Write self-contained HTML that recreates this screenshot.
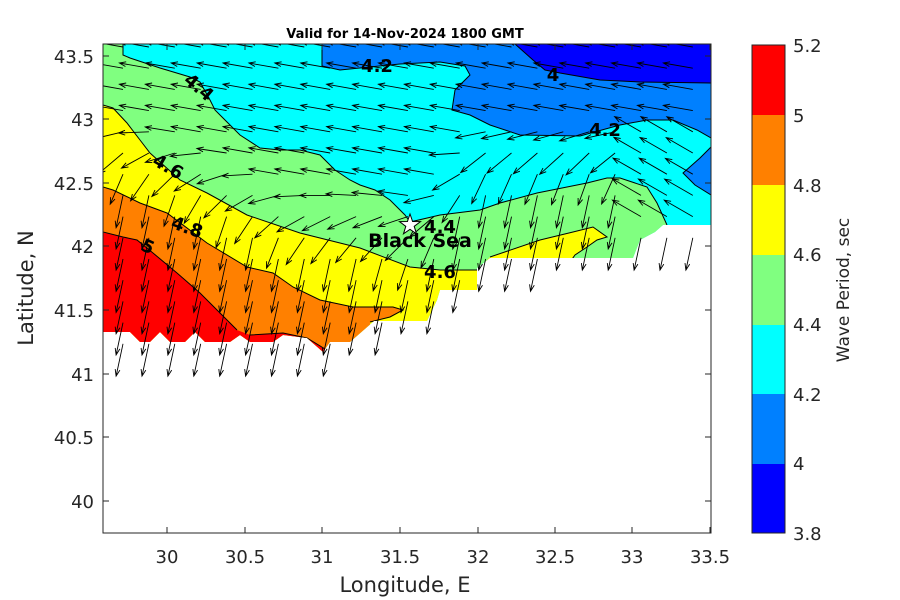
<!DOCTYPE html>
<html><head><meta charset="utf-8"><style>
body{margin:0;background:#fff;}
svg{display:block;font-family:"DejaVu Sans","Liberation Sans",sans-serif;}
</style></head><body>
<svg id="s" width="900" height="600" viewBox="0 0 900 600" xmlns="http://www.w3.org/2000/svg">
<defs>
<clipPath id="sea"><polygon points="103,44 711,44 711,225 663,225 655,232 640,240 633,258 490,258 477,268 477,290 440,290 437,300 427,321 374,321 350,342 330,342 323,352 307,338 283,335 273,342 250,342 240,335 230,342 205,342 195,332 185,342 170,342 160,332 150,342 140,342 130,332 103,332"/></clipPath>
<clipPath id="plot"><rect x="103" y="44" width="608" height="489"/></clipPath>
</defs>
<rect x="0" y="0" width="900" height="600" fill="#fff"/>
<g clip-path="url(#sea)">
<rect x="103" y="44" width="608" height="489" fill="#00ffff"/>
<polygon fill="#0080ff" points="322,40 322,66 340,70 400,64 440,62 465,66 470,75 455,90 452,110 470,115 490,125 520,135 580,136 620,125 647,120 673,120 697,130 711,138 720,138 720,40"/>
<polygon fill="#0080ff" points="720,147 711,147 700,158 683,173 695,185 711,195 720,195"/>
<polygon fill="#0000ff" points="515,40 515,44 533,60 545,70 560,73 600,80 640,82 720,83 720,40"/>
<polygon fill="#80ff80" points="100,40 123,40 123,55 130,58 160,68 190,77 200,82 210,100 215,110 220,115 230,125 240,135 260,148 280,150 300,150 320,155 335,170 350,180 360,185 375,190 390,200 405,215 410,222 440,215 480,210 500,203 537,193 587,183 607,178 620,178 647,187 657,203 667,225 670,400 100,400"/>
<polygon fill="#ffff00" points="100,105 113,108 127,123 140,140 150,153 180,180 207,193 247,215 300,233 360,248 410,267 440,270 477,270 490,257 540,240 573,232 593,227 607,237 597,240 587,247 575,255 570,262 570,400 100,400"/>
<polygon fill="#ff8000" points="100,187 113,190 140,203 167,213 207,243 247,267 273,273 293,287 320,300 353,307 393,307 403,310 390,317 370,322 370,400 100,400"/>
<polygon fill="#ff0000" points="100,232 123,237 137,240 153,253 177,273 200,293 217,310 237,330 250,335 283,333 307,338 330,352 330,400 100,400"/>
<g fill="none" stroke="#000" stroke-width="1">
<polyline points="322,44 322,66 340,70 400,64 440,62 465,66 470,75 455,90 452,110 470,115 490,125 520,135 580,136 620,125 647,120 673,120 697,130 711,138"/>
<polyline points="711,147 700,158 683,173 695,185 711,195"/>
<polyline points="515,44 533,60 545,70 560,73 600,80 640,82 711,83"/>
<polyline points="123,44 123,55 130,58 160,68 190,77 200,82 210,100 215,110 220,115 230,125 240,135 260,148 280,150 300,150 320,155 335,170 350,180 360,185 375,190 390,200 405,215 410,222 440,215 480,210 500,203 537,193 587,183 607,178 620,178 647,187 657,203 667,225"/>
<polyline points="103,105 113,108 127,123 140,140 150,153 180,180 207,193 247,215 300,233 360,248 410,267 440,270 477,270"/>
<polyline points="490,257 540,240 573,232 593,227 607,237 597,240 587,247 575,255 570,262"/>
<polyline points="103,187 113,190 140,203 167,213 207,243 247,267 273,273 293,287 320,300 353,307 393,307 403,310 390,317 370,322"/>
<polyline points="103,232 123,237 137,240 153,253 177,273 200,293 217,310 237,330"/>
<polyline points="250,335 283,333 307,338 330,352"/>
</g>
</g>
<g id="arrows" clip-path="url(#plot)" stroke="#000" stroke-width="0.9" fill="none"></g>
<g font-weight="bold" font-size="18" fill="#000" text-anchor="middle">
<text x="377" y="72">4.2</text>
<text x="553" y="81">4</text>
<text x="605" y="136">4.2</text>
<text x="0" y="0" transform="translate(195,92) rotate(40)">4.4</text>
<text x="0" y="0" transform="translate(165,172) rotate(30)">4.6</text>
<text x="0" y="0" transform="translate(185,233) rotate(20)">4.8</text>
<text x="0" y="0" transform="translate(145,252) rotate(25)">5</text>
<text x="440" y="233">4.4</text>
<text x="440" y="278">4.6</text>
<text x="420" y="247" font-size="19">Black Sea</text>
</g>
<polygon points="410,214 412.6,221.5 420.5,221.6 414.2,226.3 416.5,233.8 410,229.3 403.5,233.8 405.8,226.3 399.5,221.6 407.4,221.5" fill="#fff" stroke="#000" stroke-width="1"/>
<rect x="103" y="44" width="608" height="489" fill="none" stroke="#262626" stroke-width="1"/>
<g stroke="#262626" stroke-width="1" id="ticks"></g>
<g font-size="18" fill="#262626" text-anchor="middle">
<text x="167" y="563">30</text><text x="245" y="563">30.5</text><text x="322" y="563">31</text><text x="400" y="563">31.5</text><text x="478" y="563">32</text><text x="555" y="563">32.5</text><text x="632" y="563">33</text><text x="710" y="563">33.5</text>
</g>
<g font-size="18" fill="#262626" text-anchor="end">
<text x="94" y="63">43.5</text><text x="94" y="126">43</text><text x="94" y="190">42.5</text><text x="94" y="253">42</text><text x="94" y="317">41.5</text><text x="94" y="381">41</text><text x="94" y="444">40.5</text><text x="94" y="508">40</text>
</g>
<text x="405" y="592" font-size="21" fill="#262626" text-anchor="middle">Longitude, E</text>
<text transform="translate(33,288) rotate(-90)" font-size="21" fill="#262626" text-anchor="middle">Latitude, N</text>
<text x="405" y="38" font-size="13" font-weight="bold" text-anchor="middle">Valid for 14-Nov-2024 1800 GMT</text>
<g>
<rect x="752" y="45" width="33" height="70" fill="#ff0000"/>
<rect x="752" y="115" width="33" height="70" fill="#ff8000"/>
<rect x="752" y="185" width="33" height="70" fill="#ffff00"/>
<rect x="752" y="255" width="33" height="70" fill="#80ff80"/>
<rect x="752" y="325" width="33" height="69" fill="#00ffff"/>
<rect x="752" y="394" width="33" height="70" fill="#0080ff"/>
<rect x="752" y="464" width="33" height="69" fill="#0000ff"/>
<rect x="752" y="45" width="33" height="488" fill="none" stroke="#262626" stroke-width="1"/>
</g>
<g font-size="18" fill="#262626">
<text x="793" y="52">5.2</text><text x="793" y="122">5</text><text x="793" y="192">4.8</text><text x="793" y="261">4.6</text><text x="793" y="331">4.4</text><text x="793" y="401">4.2</text><text x="793" y="470">4</text><text x="793" y="540">3.8</text>
</g>
<text transform="translate(849,290) rotate(-90)" font-size="17" fill="#262626" text-anchor="middle">Wave Period, sec</text>
</svg>
<script>
(function(){
var NS="http://www.w3.org/2000/svg";
var tk=document.getElementById("ticks");
function ln(x1,y1,x2,y2,p){var l=document.createElementNS(NS,"line");l.setAttribute("x1",x1);l.setAttribute("y1",y1);l.setAttribute("x2",x2);l.setAttribute("y2",y2);p.appendChild(l);}
[167,245,322,400,478,555,632,710].forEach(function(x){ln(x,533,x,527,tk);ln(x,44,x,50,tk);});
[56,119,183,246,310,374,437,501].forEach(function(y){ln(103,y,109,y,tk);ln(711,y,705,y,tk);});
[115,185,255,325,394,464].forEach(function(y){ln(752,y,756,y,tk);ln(785,y,781,y,tk);});
function interp(pts,x){for(var i=0;i<pts.length-1;i++){if(x<=pts[i+1][0]){var t=(x-pts[i][0])/(pts[i+1][0]-pts[i][0]);return pts[i][1]+t*(pts[i+1][1]-pts[i][1]);}}return pts[pts.length-1][1];}
var coast=[[100,345],[330,365],[360,335],[440,300],[477,280],[500,265],[640,250],[711,240]];
var trans=[[100,115],[200,150],[300,195],[420,205],[480,125],[600,120],[711,150]];
var g=document.getElementById("arrows");
var html="";
for(var i=0;i<24;i++){for(var j=0;j<17;j++){
 var x=123+25.9*i, y=47+21.2*j;
 if(x>712)continue;
 if(y>interp(coast,x))continue;
 var yt=interp(trans,x);
 var f=Math.max(0,Math.min(1,(y-yt+10)/70));
 var th=190-f*88;
 if(x>640&&y>120&&y<230) th=210;
 if(x>400&&x<480&&y>120&&y<215) th=Math.min(th,205);
 var L=30+f*3;
 var a=th*Math.PI/180;
 var x2=x+L*Math.cos(a), y2=y+L*Math.sin(a);
 var h=7, w=0.35;
 var ax1=x2-h*Math.cos(a-w), ay1=y2-h*Math.sin(a-w);
 var ax2=x2-h*Math.cos(a+w), ay2=y2-h*Math.sin(a+w);
 html+='<path d="M'+x.toFixed(1)+' '+y.toFixed(1)+'L'+x2.toFixed(1)+' '+y2.toFixed(1)+'M'+ax1.toFixed(1)+' '+ay1.toFixed(1)+'L'+x2.toFixed(1)+' '+y2.toFixed(1)+'L'+ax2.toFixed(1)+' '+ay2.toFixed(1)+'"/>';
}}
g.innerHTML=html;
})();
</script>
</body></html>
